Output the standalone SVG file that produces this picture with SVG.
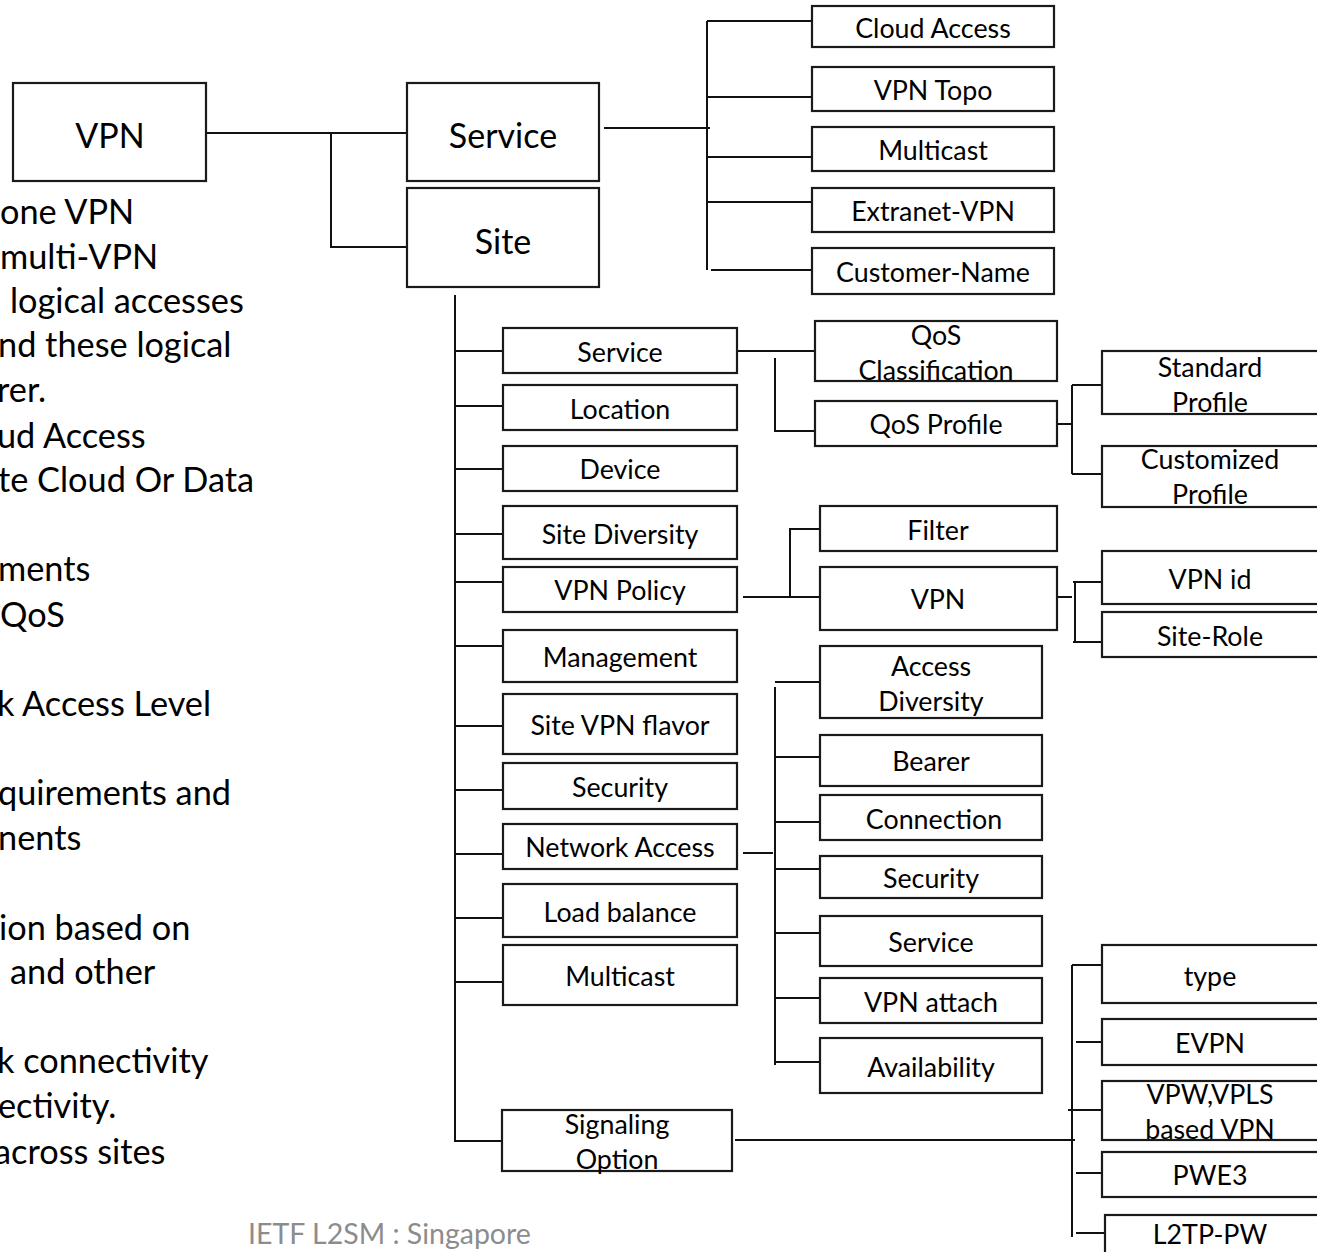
<svg xmlns="http://www.w3.org/2000/svg" width="1317" height="1252" viewBox="0 0 1317 1252">
<style>
.b{fill:#fff;stroke:#1a1a1a;stroke-width:2.2}
.t{font-family:Lato,"Open Sans","Liberation Sans",sans-serif;font-size:26.8px;fill:#000;text-anchor:middle;dominant-baseline:central}
.big{font-size:34px}
.p{font-family:Lato,"Open Sans","Liberation Sans",sans-serif;font-size:34.3px;fill:#000}
.c{stroke:#111;stroke-width:2;fill:none}
</style>
<rect width="1317" height="1252" fill="#fff"/>
<g id="connectors" class="c">
<path d="M206 133H331V247H407M331 133H407"/>
<path d="M604 128H710M707 21V270M707 21H812M707 97H812M707 157H812M707 202H812M711 270H812"/>
<path d="M455 295V1141H502M455 351H503M455 406H503M455 469H503M455 534H503M455 582H503M455 646H503M455 726H503M455 790H503M455 854H503M455 918H503M455 982H503"/>
<path d="M737 351H815M775 358V431H820"/>
<path d="M1057 424H1072M1072 385V474M1072 385H1102M1072 474H1102"/>
<path d="M743 597H820M790 597V529H820"/>
<path d="M1057 597H1072M1073 582H1102M1075 582V642M1073 642H1102"/>
<path d="M743 853H773M775 687V1065M775 682H820M775 757H820M775 822H820M775 869H820M775 933H820M775 998H820M775 1062H820"/>
<path d="M735 1140H1075M1072 965V1237M1072 965H1102M1076 1042H1102M1068 1110H1102M1076 1173H1102M1076 1233H1105"/>
</g>
<g id="n-vpn"><rect class="b" x="13" y="83" width="193" height="98"/><text class="t big" x="110" y="134">VPN</text></g>
<g id="n-service"><rect class="b" x="407" y="83" width="192" height="98"/><text class="t big" x="503" y="134">Service</text></g>
<g id="n-site"><rect class="b" x="407" y="188" width="192" height="99"/><text class="t big" x="503" y="240">Site</text></g>
<g id="n-cloud"><rect class="b" x="812" y="6" width="242" height="41"/><text class="t" x="933" y="28">Cloud Access</text></g>
<g id="n-topo"><rect class="b" x="812" y="67" width="242" height="44"/><text class="t" x="933" y="90">VPN Topo</text></g>
<g id="n-mcast1"><rect class="b" x="812" y="127" width="242" height="44"/><text class="t" x="933" y="150">Multicast</text></g>
<g id="n-extranet"><rect class="b" x="812" y="188" width="242" height="44"/><text class="t" x="933" y="211">Extranet-VPN</text></g>
<g id="n-custname"><rect class="b" x="812" y="248" width="242" height="46"/><text class="t" x="933" y="272">Customer-Name</text></g>
<g id="n-s-service"><rect class="b" x="503" y="328" width="234" height="45"/><text class="t" x="620" y="352">Service</text></g>
<g id="n-location"><rect class="b" x="503" y="385" width="234" height="45"/><text class="t" x="620" y="409">Location</text></g>
<g id="n-device"><rect class="b" x="503" y="446" width="234" height="45"/><text class="t" x="620" y="469">Device</text></g>
<g id="n-sitediv"><rect class="b" x="503" y="506" width="234" height="53"/><text class="t" x="620" y="534">Site Diversity</text></g>
<g id="n-vpnpolicy"><rect class="b" x="503" y="567" width="234" height="45"/><text class="t" x="620" y="590">VPN Policy</text></g>
<g id="n-mgmt"><rect class="b" x="503" y="630" width="234" height="52"/><text class="t" x="620" y="657">Management</text></g>
<g id="n-flavor"><rect class="b" x="503" y="694" width="234" height="60"/><text class="t" x="620" y="725">Site VPN flavor</text></g>
<g id="n-security"><rect class="b" x="503" y="763" width="234" height="46"/><text class="t" x="620" y="787">Security</text></g>
<g id="n-netaccess"><rect class="b" x="503" y="824" width="234" height="45"/><text class="t" x="620" y="847">Network Access</text></g>
<g id="n-loadbal"><rect class="b" x="503" y="884" width="234" height="53"/><text class="t" x="620" y="912">Load balance</text></g>
<g id="n-mcast2"><rect class="b" x="503" y="945" width="234" height="60"/><text class="t" x="620" y="976">Multicast</text></g>
<g id="n-signaling"><rect class="b" x="502" y="1110" width="230" height="61"/><text class="t" x="617" y="1124">Signaling</text><text class="t" x="617" y="1159">Option</text></g>
<g id="n-qosclass"><rect class="b" x="815" y="321" width="242" height="60"/><text class="t" x="936" y="335">QoS</text><text class="t" x="936" y="370">Classification</text></g>
<g id="n-qosprof"><rect class="b" x="815" y="401" width="242" height="45"/><text class="t" x="936" y="424">QoS Profile</text></g>
<g id="n-stdprof"><rect class="b" x="1102" y="351" width="220" height="63"/><text class="t" x="1210" y="367">Standard</text><text class="t" x="1210" y="402">Profile</text></g>
<g id="n-custprof"><rect class="b" x="1102" y="446" width="220" height="61"/><text class="t" x="1210" y="459">Customized</text><text class="t" x="1210" y="494">Profile</text></g>
<g id="n-filter"><rect class="b" x="820" y="506" width="237" height="45"/><text class="t" x="938" y="530">Filter</text></g>
<g id="n-vpn2"><rect class="b" x="820" y="567" width="237" height="63"/><text class="t" x="938" y="599">VPN</text></g>
<g id="n-vpnid"><rect class="b" x="1102" y="551" width="220" height="53"/><text class="t" x="1210" y="579">VPN id</text></g>
<g id="n-siterole"><rect class="b" x="1102" y="612" width="220" height="45"/><text class="t" x="1210" y="636">Site-Role</text></g>
<g id="n-accdiv"><rect class="b" x="820" y="646" width="222" height="72"/><text class="t" x="931" y="666">Access</text><text class="t" x="931" y="701">Diversity</text></g>
<g id="n-bearer"><rect class="b" x="820" y="735" width="222" height="51"/><text class="t" x="931" y="761">Bearer</text></g>
<g id="n-connection"><rect class="b" x="820" y="795" width="222" height="45"/><text class="t" x="934" y="819">Connection</text></g>
<g id="n-security2"><rect class="b" x="820" y="856" width="222" height="42"/><text class="t" x="931" y="878">Security</text></g>
<g id="n-service3"><rect class="b" x="820" y="916" width="222" height="50"/><text class="t" x="931" y="942">Service</text></g>
<g id="n-vpnattach"><rect class="b" x="820" y="978" width="222" height="45"/><text class="t" x="931" y="1002">VPN attach</text></g>
<g id="n-avail"><rect class="b" x="820" y="1038" width="222" height="55"/><text class="t" x="931" y="1067">Availability</text></g>
<g id="n-type"><rect class="b" x="1102" y="945" width="220" height="58"/><text class="t" x="1210" y="976">type</text></g>
<g id="n-evpn"><rect class="b" x="1102" y="1019" width="220" height="46"/><text class="t" x="1210" y="1043">EVPN</text></g>
<g id="n-vpw"><rect class="b" x="1102" y="1081" width="220" height="59"/><text class="t" x="1210" y="1094">VPW,VPLS</text><text class="t" x="1210" y="1129">based VPN</text></g>
<g id="n-pwe3"><rect class="b" x="1102" y="1152" width="220" height="45"/><text class="t" x="1210" y="1175">PWE3</text></g>
<g id="n-l2tp"><rect class="b" x="1105" y="1215" width="220" height="50"/><text class="t" x="1210" y="1234">L2TP-PW</text></g>
<g id="left-text" class="p">
<text x="0" y="224">one VPN</text>
<text x="0" y="269">multi-VPN</text>
<text x="10" y="313">logical accesses</text>
<text x="-2" y="357">nd these logical</text>
<text x="-3" y="402">rer.</text>
<text x="-3" y="448">ud Access</text>
<text x="-2" y="492">te Cloud Or Data</text>
<text x="-2" y="581">ments</text>
<text x="0" y="627">QoS</text>
<text x="-3" y="716">k Access Level</text>
<text x="-2" y="805">quirements and</text>
<text x="-2" y="850">nents</text>
<text x="-1" y="940">ion based on</text>
<text x="10" y="984">and other</text>
<text x="-3" y="1073">k connectivity</text>
<text x="-2" y="1118">ectivity.</text>
<text x="-6" y="1164">across sites</text>
</g>
<text x="248" y="1233" style="font-family:Lato,'Open Sans','Liberation Sans',sans-serif;font-size:28.5px;fill:#8c8c8c;dominant-baseline:central">IETF L2SM : Singapore</text>
</svg>
